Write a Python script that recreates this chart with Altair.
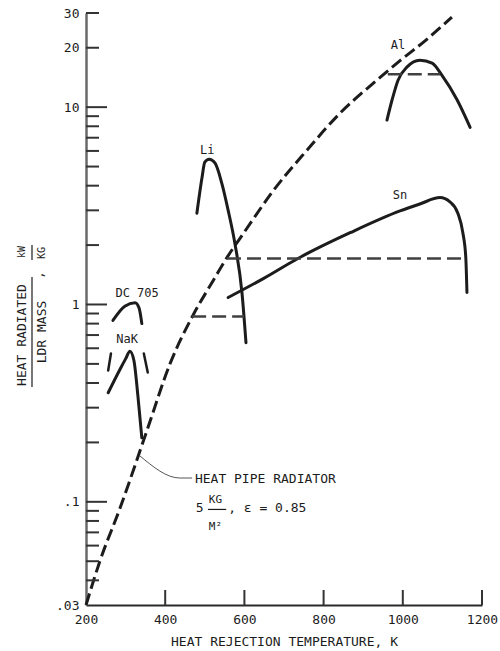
import altair as alt
import pandas as pd

FONT = "DejaVu Sans Mono"
INK = "#1c1c1c"

# Heat pipe radiator curve (5 kg/m^2, emissivity 0.85)
hp_T = [200, 235, 286, 354, 412, 470, 521, 556, 600, 672, 758, 841, 925, 993, 1060, 1124]
hp_v = [0.030, 0.050, 0.093, 0.23, 0.50, 0.88, 1.32, 1.73, 2.33, 3.75, 6.05, 9.3,
        13.2, 17.2, 22.0, 28.6]

# Liquid droplet radiator working fluids
dc705_T = [268, 298, 324, 334, 341]
dc705_v = [0.83, 0.98, 1.02, 0.96, 0.80]

nak_T = [256, 286, 300, 311, 321, 331, 341]
nak_v = [0.357, 0.47, 0.53, 0.58, 0.52, 0.345, 0.211]

li_T = [480, 493, 500, 511, 526, 543, 559, 576, 594, 604]
li_v = [2.9, 4.4, 5.26, 5.45, 5.2, 4.11, 3.0, 2.04, 1.14, 0.64]

sn_T = [559, 650, 735, 867, 993, 1043, 1094, 1119, 1139, 1152, 1159, 1162]
sn_v = [1.085, 1.36, 1.71, 2.31, 2.98, 3.23, 3.48, 3.31, 2.9, 2.29, 1.74, 1.15]

al_T = [960, 973, 988, 1011, 1043, 1074, 1099, 1137, 1170]
al_v = [8.6, 10.9, 13.7, 16.0, 17.3, 16.7, 14.5, 10.9, 7.9]

# Short bars either side of the NaK curve
nak_bar_left_T = [256, 263]
nak_bar_left_v = [0.463, 0.564]
nak_bar_right_T = [346, 356]
nak_bar_right_v = [0.564, 0.452]

# Equal-performance levels (horizontal dashed lines)
level_names = ["Li", "Sn", "Al"]
level_T0 = [468, 556, 962]
level_T1 = [599, 1159, 1094]
level_v = [0.87, 1.71, 14.7]

# Axis tick values
x_ticks = [400, 600, 800, 1000, 1200]
x_labels = [200, 400, 600, 800, 1000, 1200]
y_labels = [0.03, 0.1, 1, 10, 20, 30]
y_major = [0.1, 1, 10]
y_minor = [0.04, 0.05, 0.06, 0.07, 0.08, 0.09,
           0.2, 0.3, 0.4, 0.5, 0.6, 0.7, 0.8, 0.9,
           2, 3, 4, 5, 6, 7, 8, 9, 20, 30]

# Curve labels
lab_text = ["DC 705", "NaK", "Li", "Sn", "Al"]
lab_T = [329, 304, 506, 993, 988]
lab_v = [1.15, 0.67, 6.05, 3.6, 20.6]

W, H = 396, 592

xs = alt.Scale(domain=[200, 1200], nice=False, zero=False)
ys = alt.Scale(type="log", domain=[0.03, 30], nice=False)


def curve_frame(pairs):
    rows = []
    for name, ts, vs in pairs:
        for t, v in zip(ts, vs):
            rows.append({"curve": name, "T": t, "v": v})
    return pd.DataFrame(rows)


solid = curve_frame([
    ("DC 705", dc705_T, dc705_v),
    ("NaK", nak_T, nak_v),
    ("Li", li_T, li_v),
    ("Sn", sn_T, sn_v),
    ("Al", al_T, al_v),
])
bars = curve_frame([
    ("left", nak_bar_left_T, nak_bar_left_v),
    ("right", nak_bar_right_T, nak_bar_right_v),
])
hp = curve_frame([("heat pipe", hp_T, hp_v)])
levels = pd.DataFrame({"curve": level_names, "T0": level_T0, "T1": level_T1, "v": level_v})

X = alt.X("T:Q", scale=xs,
          axis=alt.Axis(values=x_labels, format="d", ticks=False, grid=False,
                        domainColor="#2a2a2a", domainWidth=2,
                        labelFont=FONT, labelFontSize=13, labelColor=INK,
                        labelPadding=8, labelFlush=False,
                        title="HEAT REJECTION TEMPERATURE, K",
                        titleFont=FONT, titleFontSize=13, titleFontWeight="normal",
                        titleColor=INK, titleY=30, titleX=W / 2))
Y = alt.Y("v:Q", scale=ys,
          axis=alt.Axis(values=y_labels, ticks=False, grid=False,
                        labelExpr="datum.value < 0.05 ? '.03' : datum.value < 0.5 ? '.1' : format(datum.value, 'd')",
                        domainColor="#6a6a6a", domainWidth=2.5,
                        labelFont=FONT, labelFontSize=13, labelColor=INK,
                        labelPadding=7, labelFlush=False, title=None))

solid_lines = alt.Chart(solid).mark_line(
    color=INK, strokeWidth=3, interpolate="monotone", strokeCap="round"
).encode(x=X, y=Y, detail="curve:N")

bar_lines = alt.Chart(bars).mark_line(
    color=INK, strokeWidth=2.5, strokeCap="round"
).encode(x=alt.X("T:Q", scale=xs), y=alt.Y("v:Q", scale=ys), detail="curve:N")

hp_line = alt.Chart(hp).mark_line(
    color=INK, strokeWidth=3, strokeDash=[12, 5], interpolate="monotone"
).encode(x=alt.X("T:Q", scale=xs), y=alt.Y("v:Q", scale=ys))

level_lines = alt.Chart(levels).mark_rule(
    color="#404040", strokeWidth=2.5, strokeDash=[14, 6]
).encode(x=alt.X("T0:Q", scale=xs), x2="T1:Q", y=alt.Y("v:Q", scale=ys))

# Inward-pointing axis ticks
ymaj = alt.Chart(pd.DataFrame({"v": y_major})).mark_rule(color="#333", strokeWidth=2).encode(
    y=alt.Y("v:Q", scale=ys), x=alt.value(0), x2=alt.value(21))
ymin = alt.Chart(pd.DataFrame({"v": y_minor})).mark_rule(color="#333", strokeWidth=2).encode(
    y=alt.Y("v:Q", scale=ys), x=alt.value(0), x2=alt.value(13))
xtk = alt.Chart(pd.DataFrame({"T": x_ticks})).mark_rule(color="#333", strokeWidth=2).encode(
    x=alt.X("T:Q", scale=xs), y=alt.value(H), y2=alt.value(H - 15))

# Curve labels
labels = alt.Chart(pd.DataFrame({"t": lab_text, "T": lab_T, "v": lab_v})).mark_text(
    font=FONT, fontSize=12, color=INK, align="center", baseline="middle"
).encode(x=alt.X("T:Q", scale=xs), y=alt.Y("v:Q", scale=ys), text="t:N")

# Heat pipe radiator callout
leader = alt.Chart(pd.DataFrame({"T": [336, 437, 468], "v": [0.171, 0.132, 0.132]})).mark_line(
    color="#555", strokeWidth=1, interpolate="monotone"
).encode(x=alt.X("T:Q", scale=xs), y=alt.Y("v:Q", scale=ys))

call_text = ["HEAT PIPE RADIATOR", "5", "KG", "M\u00b2", ", \u03b5 = 0.85"]
call_T = [475, 477, 510, 510, 559]
call_v = [0.131, 0.093, 0.102, 0.0745, 0.093]
call_size = [13, 13, 11, 11, 13]
callout = alt.Chart(pd.DataFrame({"t": call_text, "T": call_T, "v": call_v, "s": call_size})).mark_text(
    font=FONT, color=INK, align="left", baseline="middle"
).encode(x=alt.X("T:Q", scale=xs), y=alt.Y("v:Q", scale=ys), text="t:N",
         size=alt.Size("s:Q", scale=None, legend=None))
call_bar = alt.Chart(pd.DataFrame({"T0": [508], "T1": [554], "v": [0.0915]})).mark_rule(
    color=INK, strokeWidth=1.2
).encode(x=alt.X("T0:Q", scale=xs), x2="T1:Q", y=alt.Y("v:Q", scale=ys))

# Stacked y-axis title: HEAT RADIATED / LDR MASS , kW / KG
ytitle_txt = ["HEAT RADIATED", "LDR MASS", "kW", "KG", ","]
ytitle_x = [-64, -44, -64, -44, -47]
ytitle_y = [322, 319, 239, 240, 262]
ytitle_s = [13, 13, 10, 10, 13]
ytitle = alt.Chart(pd.DataFrame({"t": ytitle_txt, "x": ytitle_x, "y": ytitle_y, "s": ytitle_s})).mark_text(
    font=FONT, color=INK, angle=270, align="center", baseline="middle"
).encode(x=alt.X("x:Q", scale=None), y=alt.Y("y:Q", scale=None), text="t:N",
         size=alt.Size("s:Q", scale=None, legend=None))
ybars = alt.Chart(pd.DataFrame({"x": [-54, -54], "y0": [264, 232], "y1": [374, 247]})).mark_rule(
    color=INK, strokeWidth=1.2
).encode(x=alt.X("x:Q", scale=None), y=alt.Y("y0:Q", scale=None), y2="y1:Q")

chart = alt.layer(
    solid_lines, bar_lines, hp_line, level_lines, ymaj, ymin, xtk,
    labels, leader, callout, call_bar, ytitle, ybars
).properties(
    width=W, height=H,
    autosize=alt.AutoSizeParams(type="none"),
    padding={"left": 86, "top": 13, "right": 18, "bottom": 46},
    background="white",
).configure_view(stroke=None)

chart.save("out.html", embed_options={"renderer": "svg", "actions": False})
